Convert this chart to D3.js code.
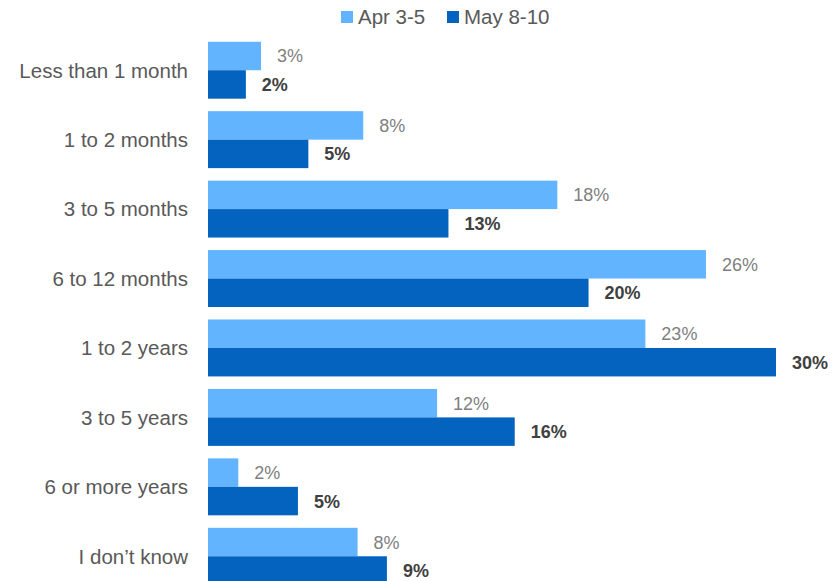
<!DOCTYPE html>
<html><head><meta charset="utf-8">
<script src="https://cdn.jsdelivr.net/npm/d3@7"></script>
<style>body{margin:0;background:#fff;} svg{display:block;font-family:"Liberation Sans",Arial,sans-serif;}</style>
</head><body><svg id="c" width="838" height="581"></svg>
<script>
const categories = ["Less than 1 month","1 to 2 months","3 to 5 months","6 to 12 months","1 to 2 years","3 to 5 years","6 or more years","I don\u2019t know"];
const seriesNames = ["Apr 3-5","May 8-10"];
const aprValues = [2.8, 8.2, 18.45, 26.3, 23.1, 12.1, 1.6, 7.9];
const mayValues = [2.0, 5.3, 12.7, 20.1, 30.0, 16.2, 4.75, 9.45];
const colors = ["#63B4FF","#0563C0"];

const svg = d3.select("#c");
const x = d3.scaleLinear().domain([0,30]).range([208,776]);
const y = d3.scaleBand().domain(categories).range([35.5,591]).paddingInner(0.18).paddingOuter(0.09);
const sub = d3.scaleBand().domain(seriesNames).range([0,y.bandwidth()]);

const data = categories.map((c,i)=>({c, v:[aprValues[i], mayValues[i]]}));
const fmt = v => Math.round(v) + "%";

const g = svg.selectAll("g.grp").data(data).join("g").attr("class","grp")
  .attr("transform", d=>`translate(0,${y(d.c)})`);

seriesNames.forEach((s,si)=>{
  g.append("rect").attr("x", x(0)).attr("y", sub(s))
    .attr("width", d=>x(d.v[si])-x(0)).attr("height", sub.bandwidth())
    .attr("fill", colors[si]);
  g.append("text").attr("x", d=>x(d.v[si])+16).attr("y", sub(s)+sub.bandwidth()/2)
    .attr("dy","0.36em").attr("font-size",18)
    .attr("fill", si===0 ? "#7F7F7F" : "#404040")
    .attr("font-weight", si===0 ? "normal" : "bold")
    .text(d=>fmt(d.v[si]));
});

svg.append("g").selectAll("text").data(categories).join("text")
  .attr("x",188).attr("y", d=>y(d)+y.bandwidth()/2).attr("dy","0.36em")
  .attr("text-anchor","end").attr("font-size",20.5).attr("fill","#595959").text(d=>d);

const leg = svg.append("g");
const lx = [341, 447];
seriesNames.forEach((s,i)=>{
  leg.append("rect").attr("x",lx[i]).attr("y",11).attr("width",12).attr("height",12).attr("fill",colors[i]);
  leg.append("text").attr("x",lx[i]+17).attr("y",17).attr("dy","0.36em").attr("font-size",20.5).attr("fill","#595959").text(s);
});
</script></body></html>
